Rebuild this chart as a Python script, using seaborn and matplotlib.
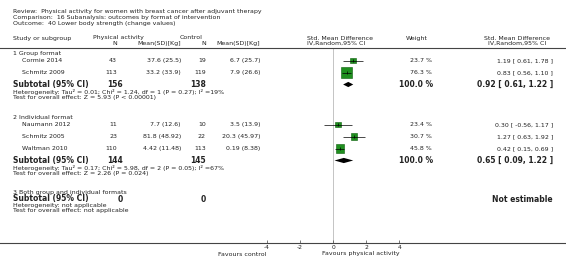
"""Forest plot: lower body strength by format of intervention"""

import matplotlib
matplotlib.use("Agg")
import matplotlib.pyplot as plt
import pandas as pd
import seaborn as sns

# ---- data ----
groups = ["1 Group format", "2 Individual format", "3 Both group and individual formats"]
studies = ["Cormie 2014", "Schmitz 2009", "Naumann 2012", "Schmitz 2005", "Waltman 2010"]
study_group = [0, 0, 1, 1, 1]
n_pa = [43, 113, 11, 23, 110]
mean_pa = ["37.6 (25.5)", "33.2 (33.9)", "7.7 (12.6)", "81.8 (48.92)", "4.42 (11.48)"]
n_ctrl = [19, 119, 10, 22, 113]
mean_ctrl = ["6.7 (25.7)", "7.9 (26.6)", "3.5 (13.9)", "20.3 (45.97)", "0.19 (8.38)"]
smd = [1.19, 0.83, 0.30, 1.27, 0.42]
smd_lo = [0.61, 0.56, -0.56, 0.63, 0.15]
smd_hi = [1.78, 1.10, 1.17, 1.92, 0.69]
weight = [23.7, 76.3, 23.4, 30.7, 45.8]

sub_n_pa = [156, 144, 0]
sub_n_ctrl = [138, 145, 0]
sub_smd = [0.92, 0.65, None]
sub_lo = [0.61, 0.09, None]
sub_hi = [1.22, 1.22, None]
sub_het = [
    "Heterogeneity: Tau\u00b2 = 0.01; Chi\u00b2 = 1.24, df = 1 (P = 0.27); I\u00b2 =19%",
    "Heterogeneity: Tau\u00b2 = 0.17; Chi\u00b2 = 5.98, df = 2 (P = 0.05); I\u00b2 =67%",
    "Heterogeneity: not applicable",
]
sub_test = [
    "Test for overall effect: Z = 5.93 (P < 0.00001)",
    "Test for overall effect: Z = 2.26 (P = 0.024)",
    "Test for overall effect: not applicable",
]
ticks = [-4, -2, 0, 2, 4]

# ---- layout (pixel rows / columns of a 566x273 figure) ----
W, H = 566, 273
group_y = [53, 117.5, 192.3]
study_y = [60.5, 72.5, 124.5, 136.5, 148.5]
sub_y = [84.5, 160.5, 199]
het_y = [92, 168, 205]
test_y = [97.4, 173.4, 210.3]
top_y, axis_y = 48, 243.3
zero_px, unit_px = 333, 16.6

TXT = "#222222"
LINE = "#444444"
FS = 4.5
FSB = 5.5

sns.set_style("white")
plt.rcParams["font.family"] = ["DejaVu Sans"]
plt.rcParams["axes.unicode_minus"] = False

fig = plt.figure(figsize=(W / 100, H / 100), dpi=100)


def put(x, y, s, ha="left", bold=False, size=None):
    fig.text(x / W, 1 - y / H, s, ha=ha, va="center", color=TXT,
             fontsize=size or (FSB if bold else FS),
             fontweight="bold" if bold else "normal")


# header block
put(13, 12, "Review:  Physical activity for women with breast cancer after adjuvant therapy")
put(13, 18, "Comparison:  16 Subanalysis: outcomes by format of intervention")
put(13, 24, "Outcome:  40 Lower body strength (change values)")
put(13, 38.5, "Study or subgroup")
put(93, 37.5, "Physical activity")
put(117, 43.3, "N", ha="right")
put(181, 43.3, "Mean(SD)[Kg]", ha="right")
put(180, 37.5, "Control")
put(206, 43.3, "N", ha="right")
put(260, 43.3, "Mean(SD)[Kg]", ha="right")
put(307, 38.3, "Std. Mean Difference")
put(307, 43.3, "IV,Random,95% CI")
put(417, 38.3, "Weight", ha="center")
put(517, 38.3, "Std. Mean Difference", ha="center")
put(517, 43.3, "IV,Random,95% CI", ha="center")

# study rows
for i, name in enumerate(studies):
    y = study_y[i]
    put(22, y, name)
    put(117, y, str(n_pa[i]), ha="right")
    put(181, y, mean_pa[i], ha="right")
    put(206, y, str(n_ctrl[i]), ha="right")
    put(260, y, mean_ctrl[i], ha="right")
    put(432, y, f"{weight[i]:.1f} %", ha="right")
    put(553, y, f"{smd[i]:.2f} [ {smd_lo[i]:.2f}, {smd_hi[i]:.2f} ]", ha="right")

# subgroup rows
for g, label in enumerate(groups):
    put(13, group_y[g], label)
    y = sub_y[g]
    put(13, y, "Subtotal (95% CI)", bold=True)
    put(123, y, str(sub_n_pa[g]), ha="right", bold=True)
    put(206, y, str(sub_n_ctrl[g]), ha="right", bold=True)
    put(13, het_y[g], sub_het[g])
    put(13, test_y[g], sub_test[g])
    if sub_smd[g] is None:
        put(553, y + 1, "Not estimable", ha="right", bold=True)
    else:
        put(433, y, "100.0 %", ha="right", bold=True)
        put(553, y, f"{sub_smd[g]:.2f} [ {sub_lo[g]:.2f}, {sub_hi[g]:.2f} ]",
            ha="right", bold=True)

put(266, 254, "Favours control", ha="right")
put(322, 254, "Favours physical activity")

# forest axes: spans full width, from header rule to axis rule
ax = fig.add_axes([0, 1 - axis_y / H, 1, (axis_y - top_y) / H])
ax.set_xlim(-zero_px / unit_px, (W - zero_px) / unit_px)
ax.set_ylim(axis_y, top_y)
ax.axvline(0, color="#c4c4c4", lw=0.7, zorder=0)

df = pd.DataFrame({"smd": smd, "y": study_y, "w": weight})
sides = [(3 + 0.11 * w) * 0.72 for w in weight]
sns.scatterplot(data=df, x="smd", y="y", marker="s", s=[s ** 2 for s in sides],
                color="#1f8f1f", edgecolor="#0b5e0b", linewidth=0.4,
                legend=False, ax=ax, zorder=2)
ax.hlines(study_y, smd_lo, smd_hi, color="black", lw=0.5, zorder=3)
ax.vlines(smd, [y - 1.3 for y in study_y], [y + 1.3 for y in study_y],
          color="black", lw=0.5, zorder=3)

for g in range(len(groups)):
    if sub_smd[g] is None:
        continue
    y = sub_y[g]
    ax.fill([sub_lo[g], sub_smd[g], sub_hi[g], sub_smd[g]],
            [y, y - 2.6, y, y + 2.6], color="black", lw=0, zorder=3)

for side in ["left", "right"]:
    ax.spines[side].set_visible(False)
for side in ["top", "bottom"]:
    ax.spines[side].set_color(LINE)
    ax.spines[side].set_linewidth(0.8)
ax.set_xticks(ticks)
ax.set_xticklabels([str(t) for t in ticks])
ax.tick_params(axis="x", direction="in", length=2.5, width=0.5, color=LINE,
               pad=1, labelsize=4.3, labelcolor=TXT, bottom=True)
ax.set_yticks([])
ax.set_xlabel("")
ax.set_ylabel("")

fig.savefig("out.png", dpi=100)
